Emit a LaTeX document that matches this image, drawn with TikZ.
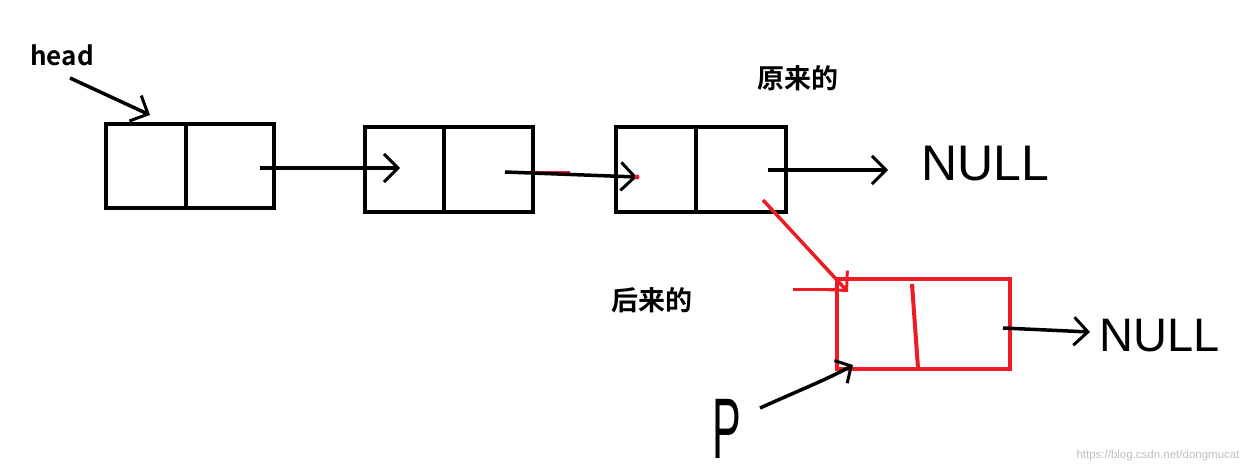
\documentclass[tikz,border=0pt]{standalone}
\usepackage{fontspec}
\usepackage{graphicx}
\setmainfont{Liberation Sans}
\newfontfamily\cjkbold[BoldFont={* Bold}]{Noto Sans CJK SC}
\usetikzlibrary{arrows.meta}
\definecolor{pred}{RGB}{237,28,36}
\begin{document}
\begin{tikzpicture}[x=1pt,y=-1pt,
  link/.style={line width=3.5pt,-{Straight Barb[length=14pt,width=28pt,line width=3pt]}},
  hand/.style={font=\fontsize{50}{50}\selectfont},
  lbl/.style={font=\cjkbold\bfseries\fontsize{27}{27}\selectfont}]
\useasboundingbox (0,0) rectangle (1249,474);
% boxes
\draw[line width=4pt] (106,124) rectangle (274,208) (186,124) -- (186,208);
\draw[line width=4pt] (365,127) rectangle (533,212) (444,127) -- (444,212);
\draw[line width=4pt] (616,127) rectangle (786,212) (696,127) -- (696,212);
\draw[pred,line width=4pt] (837,279) rectangle (1010,369);
\draw[pred,line width=4pt] (912,284) -- (918,368);
\coordinate (b1out) at (260,168);
\coordinate (b2in) at (400,168);
\coordinate (b2out) at (505,172);
\coordinate (b3in) at (637,177);
\coordinate (b3out) at (768,170);
\coordinate (n1) at (888,170);
\coordinate (b3red) at (763,200);
\coordinate (rin) at (848,292);
\coordinate (rout) at (1003,328);
\coordinate (n2) at (1090,332);
\coordinate (hs) at (70,78);
\coordinate (he) at (150,115);
\coordinate (ps) at (760,408);
\coordinate (pe) at (853,365);
% texts
\node[hand] (null1) at (985,164) {NULL};
\node[hand,font=\fontsize{47}{47}\selectfont] (null2) at (1160,336) {NULL};
\node[font=\cjkbold\bfseries\fontsize{26}{26}\selectfont] (head) at (62,55) {head};
\node[lbl] (orig) at (798,78) {原来的};
\node[lbl] (later) at (652,300) {后来的};
\node[anchor=base,font=\fontsize{86}{86}\selectfont,inner sep=0pt] (p) at (727,458) {\scalebox{0.5}[1]{P}};
\node[font=\fontsize{11.5}{11.5}\selectfont,text=black!25] (wm) at (1158,456) {https://blog.csdn.net/dongmucat};
% connectors
\draw[link] (b1out) -- (b2in);
\draw[pred,line width=3pt] (b2out) -- (570,172);
\draw[link] (b2out) -- (b3in);
\fill[pred] (b3in) circle (2.5pt);
\draw[link] (b3out) -- (n1);
\draw[link,pred] (b3red) -- (rin);
\draw[pred,line width=3pt] (793,289) -- (837,289);
\draw[link] (rout) -- (n2);
\draw[link] (hs) -- (he);
\draw[line width=3.5pt,-{Straight Barb[length=12pt,width=26pt,line width=3pt]}] (ps) .. controls (800,390) and (830,378) .. (pe);
\end{tikzpicture}
\end{document}
